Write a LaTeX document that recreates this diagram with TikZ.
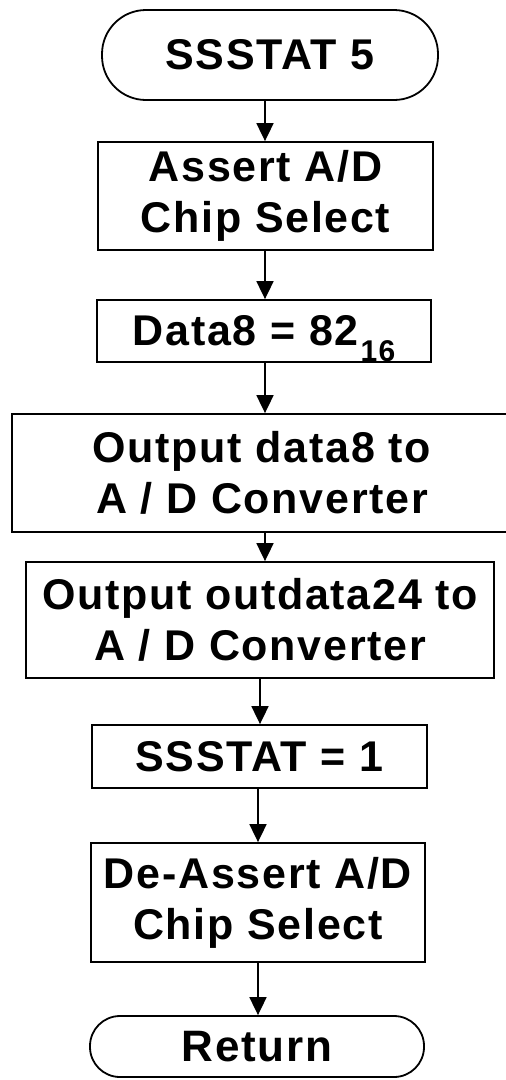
\documentclass[tikz,border=0pt]{standalone}
\usepackage{fontspec}
\setmainfont{Liberation Sans}[LetterSpace=4]
\usetikzlibrary{arrows.meta}
\begin{document}
\begin{tikzpicture}[x=1pt,y=-1pt,
  box/.style={draw, line width=1.8pt, inner sep=0pt, align=center,
    font=\bfseries\fontsize{43}{51}\selectfont},
  term/.style={box, rounded corners=#1},
  arr/.style={line width=1.8pt, -{Triangle[length=18pt,width=17pt]}}]
\useasboundingbox (0,0) rectangle (506,1080);
\clip (0,0) rectangle (506,1080);
\fill[white] (0,0) rectangle (506,1080);
\node[term=44pt, minimum width=336pt, minimum height=90pt] (start) at (270,55) {SSSTAT 5};
\node[box, minimum width=335pt, minimum height=108pt] (b1) at (265.5,196) {Assert A/D\\Chip Select};
\node[box, minimum width=334pt, minimum height=62pt] (b2) at (264,331) {Data8 = 82\hspace{2pt}\smash{\raisebox{-16pt}{\fontsize{30}{30}\selectfont 16}}};
\node[box, minimum width=500pt, minimum height=118pt] (b3) at (262,473) {Output data8 to\\A / D Converter};
\node[box, minimum width=468pt, minimum height=116pt] (b4) at (260,620) {Output outdata24 to\\A / D Converter};
\node[box, minimum width=335pt, minimum height=63pt] (b5) at (259.5,756.5) {SSSTAT = 1};
\node[box, minimum width=334pt, minimum height=119pt] (b6) at (258,902.5) {De-Assert A/D\\Chip Select};
\node[term=30pt, minimum width=334pt, minimum height=61pt, font=\bfseries\fontsize{44}{50}\selectfont] (ret) at (257,1046.5) {Return};
\coordinate (x1) at (265,0);
\coordinate (x2) at (265,0);
\coordinate (x3) at (265,0);
\coordinate (x4) at (265,0);
\coordinate (x5) at (260,0);
\coordinate (x6) at (258,0);
\coordinate (x7) at (258,0);
\draw[arr] (start.south -| x1) -- (b1.north -| x1);
\draw[arr] (b1.south -| x2) -- (b2.north -| x2);
\draw[arr] (b2.south -| x3) -- (b3.north -| x3);
\draw[arr] (b3.south -| x4) -- (b4.north -| x4);
\draw[arr] (b4.south -| x5) -- (b5.north -| x5);
\draw[arr] (b5.south -| x6) -- (b6.north -| x6);
\draw[arr] (b6.south -| x7) -- (ret.north -| x7);
\end{tikzpicture}
\end{document}
